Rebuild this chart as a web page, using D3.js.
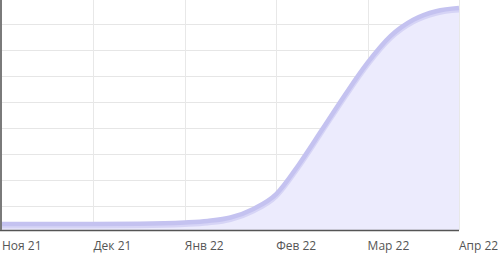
<!DOCTYPE html>
<html>
<head>
<meta charset="utf-8">
<script src="https://cdn.jsdelivr.net/npm/d3@7"></script>
<style>
  body { margin: 0; background: #fff; }
  svg { display: block; }
  .tick-label { font-family: "Open Sans", sans-serif; font-size: 12px; fill: #555; }
</style>
</head>
<body>
<script>
var width = 498;
var height = 253;
var margin = { top: 0, right: 39, bottom: 23, left: 2 };
var w = width - margin.left - margin.right;
var h = height - margin.top - margin.bottom;

// month labels on the x axis
var months = ["Ноя 21", "Дек 21", "Янв 22", "Фев 22", "Мар 22", "Апр 22"];
// series: position in months from Nov 21, value
var monthPos = [0, 0.5, 1, 1.5, 2, 2.25, 2.5, 2.75, 3, 3.25, 3.5, 3.75, 4, 4.25, 4.5, 4.75, 5];
var values   = [30, 30, 30, 31, 36, 42, 55, 88, 145, 260, 392, 525, 650, 752, 815, 848, 860];
// horizontal gridlines
var yTicks = [100, 200, 300, 400, 500, 600, 700, 800];

var data = monthPos.map(function (m, i) { return { m: m, v: values[i] }; });

var svg = d3.select("body").append("svg")
    .attr("width", width)
    .attr("height", height);

var chart = svg.append("g")
    .attr("transform", "translate(" + margin.left + "," + margin.top + ")");

var x = d3.scaleLinear()
    .domain([0, months.length - 1])
    .range([0, w]);

var y = d3.scaleLinear()
    .domain([9, 893])
    .range([h, 0]);

// gridlines
chart.append("g").selectAll("line.hg")
    .data(yTicks)
    .enter().append("line")
    .attr("x1", 0).attr("x2", w)
    .attr("y1", function (d) { return Math.round(y(d)) + 0.5; })
    .attr("y2", function (d) { return Math.round(y(d)) + 0.5; })
    .style("stroke", "#e6e6e6");

chart.append("g").selectAll("line.vg")
    .data(d3.range(1, months.length))
    .enter().append("line")
    .attr("x1", function (d) { return Math.round(x(d)) + 0.5; })
    .attr("x2", function (d) { return Math.round(x(d)) + 0.5; })
    .attr("y1", 0).attr("y2", h)
    .style("stroke", "#e8e8e8");

var area = d3.area()
    .x(function (d) { return x(d.m); })
    .y0(h)
    .y1(function (d) { return y(d.v); })
    .curve(d3.curveMonotoneX);

var line = d3.line()
    .x(function (d) { return x(d.m); })
    .y(function (d) { return y(d.v); })
    .curve(d3.curveMonotoneX);

chart.append("path")
    .datum(data)
    .attr("d", area)
    .style("fill", "#ecebfd");

chart.append("path")
    .datum(data)
    .attr("d", line)
    .attr("transform", "translate(0,1.5)")
    .style("fill", "none")
    .style("stroke", "#d6d4f6")
    .style("stroke-width", 5);

chart.append("path")
    .datum(data)
    .attr("d", line)
    .attr("transform", "translate(0,-0.5)")
    .style("fill", "none")
    .style("stroke", "#c4c2f0")
    .style("stroke-width", 4.5);

// axes lines
chart.append("line")
    .attr("x1", -2).attr("x2", w)
    .attr("y1", h + 0.5).attr("y2", h + 0.5)
    .style("stroke", "#555")
    .style("stroke-width", 1.5);

chart.append("line")
    .attr("x1", -1).attr("x2", -1)
    .attr("y1", 0).attr("y2", h)
    .style("stroke", "#7a7a7a")
    .style("stroke-width", 2);

// month labels, start-anchored at the tick
chart.append("g").selectAll("text")
    .data(months)
    .enter().append("text")
    .attr("class", "tick-label")
    .attr("x", function (d, i) { return x(i); })
    .attr("y", h + 20)
    .style("text-anchor", "start")
    .text(function (d) { return d; });
</script>
</body>
</html>
